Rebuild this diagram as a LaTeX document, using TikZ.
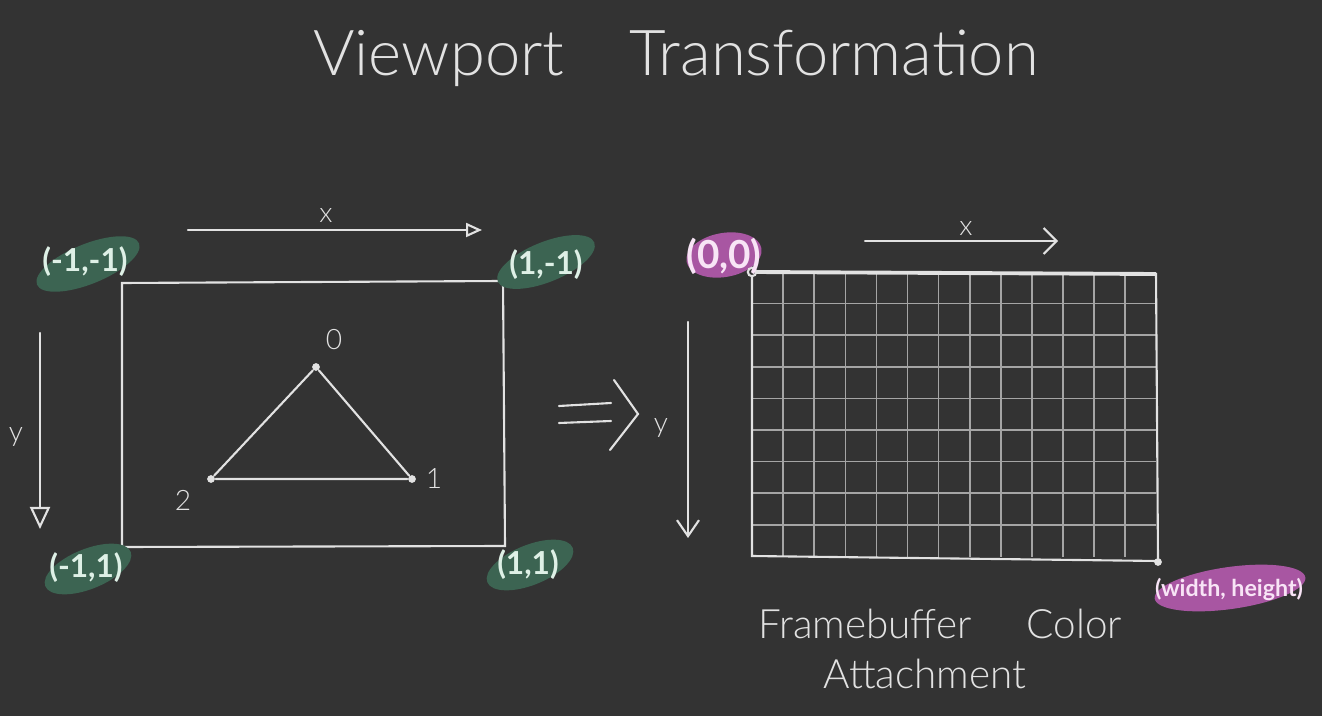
\documentclass[tikz,border=0pt]{standalone}
\usepackage{fontspec}
\setmainfont{Lato}
\newfontfamily\thinfont{Lato Light}
\usetikzlibrary{arrows.meta}
\definecolor{board}{RGB}{51,51,51}
\definecolor{chalk}{RGB}{226,226,226}
\definecolor{chalkdim}{RGB}{165,165,165}
\definecolor{chalkgreen}{RGB}{60,100,82}
\definecolor{chalkpink}{RGB}{168,86,162}
\definecolor{greentext}{RGB}{222,240,230}
\definecolor{pinktext}{RGB}{248,228,246}
\begin{document}
\begin{tikzpicture}[x=0.01cm,y=-0.01cm,
  chalkline/.style={draw=chalk, line width=0.6pt, line cap=round},
  gridline/.style={draw=chalkdim, line width=0.45pt},
  lbl/.style={text=chalk, inner sep=0pt, font=\thinfont\fontsize{8}{9}\selectfont},
  titletext/.style={text=chalk, inner sep=0pt, font=\thinfont\fontsize{18}{22}\selectfont},
  captext/.style={text=chalk, inner sep=0pt, font=\thinfont\fontsize{11.5}{14}\selectfont},
  greenlbl/.style={text=greentext, inner sep=0pt, font=\bfseries\fontsize{9}{10}\selectfont},
  pinklbl/.style={text=pinktext, inner sep=0pt, font=\bfseries\fontsize{9}{10}\selectfont},
  vdot/.style={circle, fill=chalk, inner sep=0pt, minimum size=2.2pt},
  opendot/.style={circle, draw=chalk, fill=board, line width=0.6pt, inner sep=0pt, minimum size=2.4pt},
  openhead/.style={-{Triangle[open, length=0.16cm, width=0.14cm, line width=0.6pt]}},
  bigopenhead/.style={-{Triangle[open, length=0.22cm, width=0.2cm, line width=0.6pt]}},
  barbhead/.style={-{Straight Barb[length=0.13cm, width=0.26cm, line width=0.6pt]}}
]
\fill[board] (0,0) rectangle (1322,716);
\useasboundingbox (0,0) rectangle (1322,716);

% title
\node[titletext] (title) at (676,58) {Viewport\hspace{0.65cm}Transformation};

% ---------- left: NDC square ----------
\coordinate (tl) at (122,283);
\coordinate (tr) at (503,281);
\coordinate (br) at (505,546);
\coordinate (bl) at (122,547);
\draw[chalkline] (tl) -- (tr) -- (br) -- (bl) -- cycle;

% highlight patches
\fill[chalkgreen, rotate around={22:(88,264)}] (88,264) ellipse [x radius=0.55cm, y radius=0.2cm];
\fill[chalkgreen, rotate around={22:(546,262)}] (546,262) ellipse [x radius=0.52cm, y radius=0.2cm];
\fill[chalkgreen, rotate around={22:(88,569)}] (88,569) ellipse [x radius=0.46cm, y radius=0.2cm];
\fill[chalkgreen, rotate around={22:(530,565)}] (530,565) ellipse [x radius=0.46cm, y radius=0.2cm];

\node[greenlbl] (nmm) at (85,262) {(-1,-1)};
\node[greenlbl] (npm) at (546,265) {(1,-1)};
\node[greenlbl] (nmp) at (86,568) {(-1,1)};
\node[greenlbl] (npp) at (528,565) {(1,1)};

% axes
\coordinate (xa0) at (188,230);
\coordinate (xa1) at (482,230);
\draw[chalkline, openhead] (xa0) -- (xa1);
\node[lbl] (xlab) at (326,216) {x};
\coordinate (ya0) at (40,333);
\coordinate (ya1) at (40,529);
\draw[chalkline, bigopenhead] (ya0) -- (ya1);
\node[lbl] (ylab) at (16,437) {y};

% triangle
\node[vdot] (v0) at (316,367) {};
\node[vdot] (v1) at (412,479) {};
\node[vdot] (v2) at (211,479) {};
\draw[chalkline] (v0) -- (v1) -- (v2) -- (v0);
\node[lbl] (l0) at (334,340) {0};
\node[lbl] (l1) at (434,479) {1};
\node[lbl] (l2) at (183,500) {2};

% implies arrow
\draw[chalkline] (559,406) -- (611,403);
\draw[chalkline] (559,423) -- (611,421);
\draw[chalkline] (614,380) -- (638,414) -- (610,450);

% ---------- right: framebuffer ----------
\foreach \i in {1,...,12} {
  \draw[gridline] (752+\i*31.1,274) -- (752+\i*31.1,557);
}
\foreach \j in {1,...,8} {
  \draw[gridline] (752,272+\j*31.6) -- (1156,272+\j*31.6);
}
\coordinate (ftl) at (752,272);
\coordinate (ftr) at (1156,274);
\coordinate (fbr) at (1158,561);
\coordinate (fbl) at (752,556);
\draw[chalkline] (ftl) -- (ftr) -- (fbr) -- (fbl) -- cycle;
\draw[draw=chalk, line width=1.1pt] (ftl) -- (ftr);

\fill[chalkpink, rotate around={10:(724,255)}] (724,255) ellipse [x radius=0.38cm, y radius=0.22cm];
\fill[chalkpink, rotate around={8:(1230,588)}] (1230,588) ellipse [x radius=0.76cm, y radius=0.21cm];

\node[opendot] (o) at (752,272) {};
\node[vdot] (wh) at (1158,562) {};
\node[pinklbl, font=\bfseries\fontsize{11}{12}\selectfont] (n00) at (724,256) {(0,0)};
\node[pinklbl, font=\bfseries\fontsize{6.6}{8}\selectfont] (nwh) at (1229,589) {(width, height)};

\coordinate (rx0) at (865,241);
\coordinate (rx1) at (1058,241);
\draw[chalkline, barbhead] (rx0) -- (rx1);
\node[lbl] (rxlab) at (966,229) {x};
\coordinate (ry0) at (688,322);
\coordinate (ry1) at (688,538);
\draw[chalkline, -{Straight Barb[length=0.16cm, width=0.22cm, line width=0.6pt]}] (ry0) -- (ry1);
\node[lbl] (rylab) at (661,428) {y};

\node[captext] (cap1) at (940,624) {Framebuffer\hspace{0.55cm}Color};
\node[captext] (cap2) at (925,674) {Attachment};
\end{tikzpicture}
\end{document}
